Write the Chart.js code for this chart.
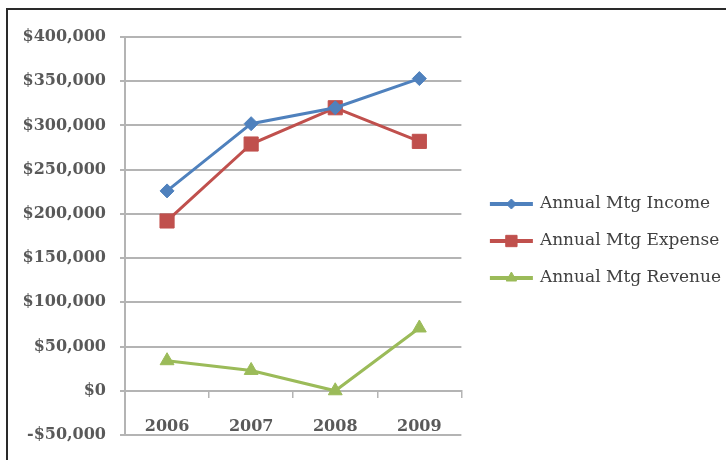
<!DOCTYPE html>
<html lang="en">
<head>
    <meta charset="UTF-8">
    <title>Annual Mtg</title>
    <script src="https://cdn.jsdelivr.net/npm/chart.js"></script>
    <style type="text/css">
        body{
            margin: 0;
            background: #fff;
        }
        .wrap{
            position: relative;
            width: 726px;
            height: 460px;
            overflow: hidden;
        }
        .frame{
            position: absolute;
            left: 6px;
            top: 8px;
            width: 800px;
            height: 600px;
            border: 2px solid #2a2a2a;
        }
        canvas{
            position: absolute;
            left: 0;
            top: 0;
        }
    </style>
</head>
<body>
    <div class="wrap">
        <div class="frame"></div>
        <canvas id="mtgChart" width="726" height="460"></canvas>
    </div>

    <script>
        // data
        const years = ['2006', '2007', '2008', '2009'];
        const income = [226000, 302000, 320000, 353000];
        const expense = [192000, 279000, 320000, 282000];
        const revenue = [34000, 23000, 0, 71000];
        const seriesNames = ['Annual Mtg Income', 'Annual Mtg Expense', 'Annual Mtg Revenue'];

        const tickFont = { family: 'DejaVu Serif', size: 16, weight: 'bold' };
        const gridColor = '#b4b4b4';

        function money(v) {
            const s = '$' + Math.abs(v).toLocaleString('en-US');
            return v < 0 ? '-' + s : s;
        }

        // nudges the legend a bit and draws the marker on top of each legend line
        const legendMarkers = {
            id: 'legendMarkers',
            afterLayout(chart) {
                const legend = chart.legend;
                legend.left += 10;
                legend.right += 10;
                legend.top += 5;
                legend.bottom += 5;
            },
            afterDraw(chart) {
                const legend = chart.legend;
                const ctx = chart.ctx;
                legend.legendHitBoxes.forEach(function(box, i) {
                    const ds = chart.data.datasets[i];
                    const x = box.left + legend.options.labels.boxWidth / 2;
                    const y = box.top + box.height / 2;
                    ctx.save();
                    ctx.fillStyle = ds.backgroundColor;
                    ctx.strokeStyle = ds.borderColor;
                    ctx.lineWidth = 1;
                    Chart.helpers.drawPoint(ctx, {
                        pointStyle: ds.pointStyle,
                        radius: ds.pointRadius - 2,
                        rotation: 0,
                        borderWidth: 1
                    }, x, y);
                    ctx.restore();
                });
            }
        };

        const mtgData = {
            labels: years,
            datasets: [{
                label: seriesNames[0],
                data: income,
                borderColor: '#4f81bd',
                backgroundColor: '#4f81bd',
                borderWidth: 3,
                pointStyle: 'rectRot',
                pointRadius: 7,
                pointBorderWidth: 1
            }, {
                label: seriesNames[1],
                data: expense,
                borderColor: '#c0504d',
                backgroundColor: '#c0504d',
                borderWidth: 3,
                pointStyle: 'rect',
                pointRadius: 10,
                pointBorderWidth: 1
            }, {
                label: seriesNames[2],
                data: revenue,
                borderColor: '#9bbb59',
                backgroundColor: '#9bbb59',
                borderWidth: 3,
                pointStyle: 'triangle',
                pointRadius: 8,
                pointBorderWidth: 1
            }]
        };

        const mtgConfig = {
            type: 'line',
            data: mtgData,
            options: {
                responsive: false,
                animation: false,
                layout: {
                    padding: { top: 37, bottom: 25, left: 0, right: 5 }
                },
                plugins: {
                    tooltip: { enabled: false },
                    legend: {
                        position: 'right',
                        maxWidth: 265,
                        labels: {
                            boxWidth: 40,
                            boxHeight: 1,
                            padding: 20,
                            color: '#404040',
                            font: { family: 'DejaVu Serif', size: 17 }
                        }
                    }
                },
                scales: {
                    x: {
                        position: { y: 0 },
                        offset: true,
                        grid: {
                            offset: true,
                            drawOnChartArea: false,
                            drawTicks: true,
                            tickLength: 6,
                            color: gridColor,
                            lineWidth: 1.5
                        },
                        border: { color: gridColor, width: 2 },
                        ticks: {
                            padding: 20,
                            color: '#595959',
                            font: tickFont,
                            maxRotation: 0
                        }
                    },
                    y: {
                        min: -50000,
                        max: 400000,
                        afterFit: function(scale) { scale.width = 125; },
                        grid: {
                            color: gridColor,
                            lineWidth: 2,
                            tickLength: 5
                        },
                        border: { color: gridColor, width: 2 },
                        ticks: {
                            stepSize: 50000,
                            padding: 14,
                            color: '#595959',
                            font: tickFont,
                            callback: function(value) { return money(value); }
                        }
                    }
                }
            },
            plugins: [legendMarkers]
        };

        window.onload = function() {
            new Chart(document.getElementById('mtgChart'), mtgConfig);
        };
    </script>
</body>
</html>
